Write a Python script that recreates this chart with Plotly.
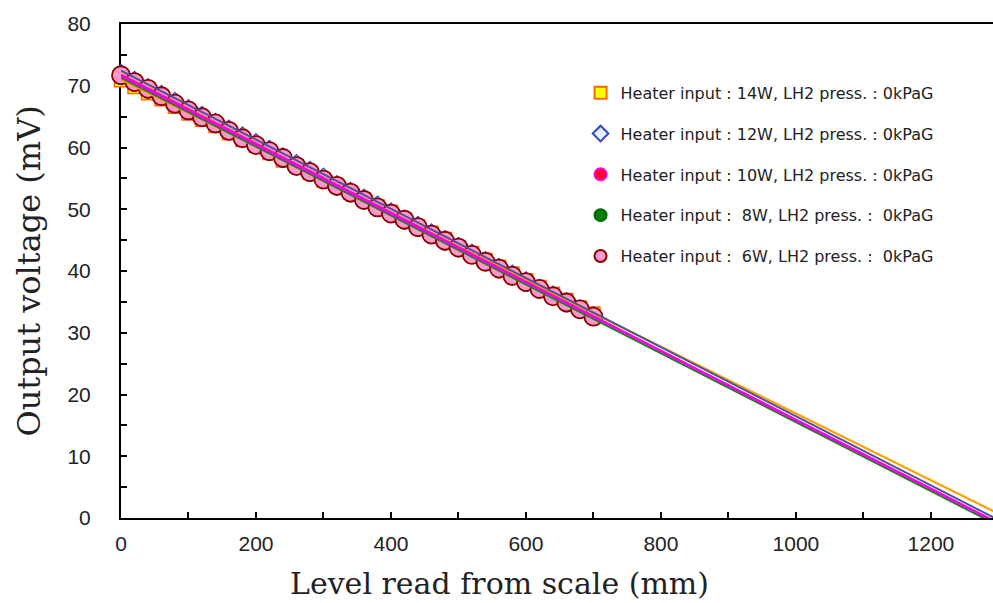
import numpy as np
import plotly.graph_objects as go

level_mm = [0, 20, 40, 60, 80, 100, 120, 140, 160, 180, 200, 220, 240, 260, 280, 300, 320, 340,
            360, 380, 400, 420, 440, 460, 480, 500, 520, 540, 560, 580, 600, 620, 640, 660, 680, 700]

v_14w = [70.9, 69.8, 68.8, 67.8, 66.6, 65.5, 64.5, 63.5, 62.3, 61.2, 60.3, 59.1, 57.9, 57.0, 55.9, 54.7, 53.7, 52.7,
         51.6, 50.5, 49.6, 48.4, 47.2, 46.2, 45.2, 43.9, 42.9, 41.8, 40.7, 39.6, 38.5, 37.4, 36.3, 35.3, 34.1, 33.1]
v_12w = [72.5, 71.4, 70.2, 69.1, 68.0, 66.8, 65.7, 64.6, 63.5, 62.4, 61.3, 60.2, 59.0, 57.9, 56.8, 55.7, 54.5, 53.4,
         52.3, 51.2, 50.1, 48.9, 47.9, 46.7, 45.6, 44.5, 43.4, 42.2, 41.1, 40.0, 38.9, 37.7, 36.6, 35.5, 34.4, 33.3]
v_10w = [71.9, 70.8, 69.6, 68.5, 67.4, 66.3, 65.1, 64.0, 62.9, 61.8, 60.7, 59.5, 58.4, 57.3, 56.2, 55.1, 54.0, 52.8,
         51.7, 50.6, 49.5, 48.4, 47.2, 46.1, 45.0, 43.9, 42.8, 41.7, 40.5, 39.4, 38.3, 37.2, 36.1, 35.0, 33.8, 32.7]
v_8w = [71.3, 70.2, 69.1, 68.0, 66.8, 65.7, 64.6, 63.5, 62.4, 61.2, 60.1, 59.0, 57.9, 56.8, 55.6, 54.6, 53.4, 52.3,
        51.2, 50.1, 49.0, 47.9, 46.7, 45.6, 44.5, 43.4, 42.3, 41.2, 40.0, 38.9, 37.8, 36.7, 35.6, 34.5, 33.4, 32.3]
v_6w = [71.7, 70.6, 69.5, 68.3, 67.1, 66.0, 64.9, 63.9, 62.7, 61.5, 60.4, 59.4, 58.3, 57.0, 56.0, 54.8, 53.8, 52.7,
        51.5, 50.3, 49.3, 48.3, 47.1, 45.9, 44.9, 43.8, 42.6, 41.5, 40.4, 39.2, 38.2, 37.1, 35.9, 34.9, 33.8, 32.6]

NB = "\u00a0"
labels = [
    "Heater input : 14W, LH2 press. : 0kPaG",
    "Heater input : 12W, LH2 press. : 0kPaG",
    "Heater input : 10W, LH2 press. : 0kPaG",
    "Heater input : " + NB + "8W, LH2 press. : " + NB + "0kPaG",
    "Heater input : " + NB + "6W, LH2 press. : " + NB + "0kPaG",
]
x_title = "Level read from scale (mm)"
y_title = "Output voltage (mV)"

series = [v_14w, v_12w, v_10w, v_8w, v_6w]
markers = [
    dict(symbol="square", size=13, color="#ffff00", line=dict(color="#ff6600", width=1.5)),
    dict(symbol="diamond", size=9, color="#e8f0ff", line=dict(color="#3344cc", width=1.2)),
    dict(symbol="circle", size=9, color="#ff0033", line=dict(color="#ff00cc", width=1)),
    dict(symbol="circle", size=14, color="#008000", line=dict(color="#006600", width=1)),
    dict(symbol="circle", size=18, color="#ff99cc", line=dict(color="#8b0000", width=1.8)),
]
line_colors = ["#ffa000", "#5050a0", "#ff3060", "#208020", "#ee00ee"]
line_widths = [2.2, 2.0, 2.0, 2.0, 2.6]

fig = go.Figure()
for i, (lab, ys, mk) in enumerate(zip(labels, series, markers)):
    fig.add_trace(go.Scatter(x=level_mm, y=ys, mode="markers", name=lab, marker=mk,
                             cliponaxis=False, legendgroup=f"g{i}"))

x_ext = np.array([0.0, 1320.0])
for i, ys in enumerate(series):
    k, b = np.polyfit(level_mm, ys, 1)
    fig.add_trace(go.Scatter(x=x_ext, y=k * x_ext + b, mode="lines", showlegend=False,
                             line=dict(color=line_colors[i], width=line_widths[i]),
                             hoverinfo="skip"))

tick_font = dict(family="Liberation Sans, Arial, sans-serif", size=21, color="#222222")
xtitle_font = dict(family="DejaVu Serif, serif", size=30, color="#222222")
ytitle_font = dict(family="DejaVu Serif, serif", size=32, color="#222222")

fig.update_layout(
    width=993, height=603,
    margin=dict(l=121, r=0, t=24, b=85),
    plot_bgcolor="white", paper_bgcolor="white",
    legend=dict(x=0.527, y=0.895, xanchor="left", yanchor="top",
                bgcolor="rgba(0,0,0,0)", tracegroupgap=17, itemsizing="constant", itemwidth=30,
                font=dict(family="DejaVu Sans, sans-serif", size=16, color="#222222")),
    xaxis=dict(range=[0, 1292], dtick=200, tick0=0, ticks="inside", ticklen=6, tickwidth=1.5,
               tickcolor="black", showline=True, linecolor="black", linewidth=2, mirror=True,
               showgrid=False, zeroline=False, tickfont=tick_font, layer="below traces",
               ticklabelstandoff=6,
               minor=dict(dtick=100, ticks="inside", ticklen=6, tickwidth=1.5, tickcolor="black", showgrid=False)),
    yaxis=dict(range=[0, 80], dtick=10, tick0=0, ticks="inside", ticklen=6, tickwidth=1.5,
               tickcolor="black", showline=True, linecolor="black", linewidth=2,
               showgrid=False, zeroline=False, tickfont=tick_font, layer="below traces",
               ticklabelstandoff=24,
               minor=dict(dtick=5, ticks="inside", ticklen=6, tickwidth=1.5, tickcolor="black", showgrid=False)),
    annotations=[
        dict(text=x_title, xref="paper", yref="paper", x=0.4346, y=-0.1316, xanchor="center", yanchor="middle",
             showarrow=False, font=xtitle_font),
        dict(text=y_title, xref="paper", yref="paper", x=-0.106, y=0.5, xanchor="center", yanchor="middle",
             textangle=-90, showarrow=False, font=ytitle_font),
    ],
)

fig.write_html("out.html", config={"displayModeBar": False},
               post_script="document.body.style.margin='0';document.body.style.overflow='hidden';")
